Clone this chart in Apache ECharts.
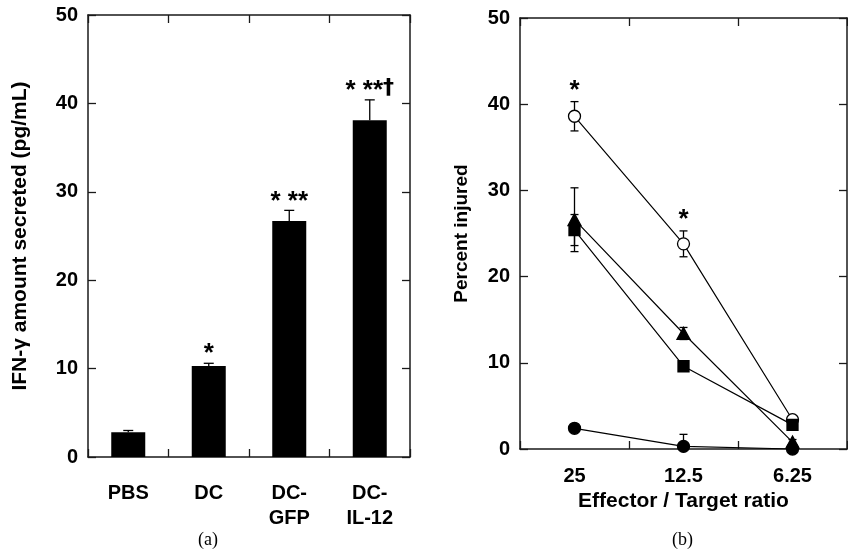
<!DOCTYPE html>
<html>
<head>
<meta charset="utf-8">
<script src="https://cdn.jsdelivr.net/npm/echarts@6/dist/echarts.min.js"></script>
<style>
  html, body { margin: 0; padding: 0; background: #fff; }
  #main { width: 848px; height: 558px; }
</style>
</head>
<body>
<div id="main"></div>
<script>
// (a) IFN-γ secretion
var groups = ['PBS', 'DC', 'DC-\nGFP', 'DC-\nIL-12'];
var ifnValues = [2.8, 10.3, 26.7, 38.1];
var ifnErrors = [0.2, 0.3, 1.2, 2.3];
var ifnMarks = ['', '*', '* **', '* **\u2020'];

// (b) cytotoxicity vs E/T ratio
var ratios = ['25', '12.5', '6.25'];
var openCircle = [38.6, 23.8, 3.4];
var openCircleErr = [1.7, 1.5, 0];
var openCircleMarks = ['*', '*', ''];
var squareVals = [25.4, 9.6, 2.8];
var squareErr = [1.8, 0.4, 0.5];
var triangleVals = [26.6, 13.4, 0.8];
var triangleErr = [3.7, 0.7, 0.3];
var filledCircle = [2.4, 0.3, 0];
var filledCircleErr = [0.2, 1.4, 0];

var FONT = "'Liberation Sans', Arial, sans-serif";

var chart = echarts.init(document.getElementById('main'));

// 误差线数据 [index, low, high, 是否画下端帽]
function errData(vals, errs, both) {
  return vals.map(function (v, i) {
    var lo = both ? Math.max(0, v - errs[i]) : v;
    return [i, lo, v + errs[i], both ? 1 : 0];
  });
}

function errorBarItem(capHalf) {
  return function (params, api) {
    var x = api.value(0);
    var lo = api.coord([x, api.value(1)]);
    var hi = api.coord([x, api.value(2)]);
    var style = { stroke: '#000', lineWidth: 1.3, fill: null };
    var kids = [
      { type: 'line', shape: { x1: lo[0], y1: lo[1], x2: hi[0], y2: hi[1] }, style: style },
      { type: 'line', shape: { x1: hi[0] - capHalf, y1: hi[1], x2: hi[0] + capHalf, y2: hi[1] }, style: style }
    ];
    if (api.value(3)) {
      kids.push({ type: 'line', shape: { x1: lo[0] - capHalf, y1: lo[1], x2: lo[0] + capHalf, y2: lo[1] }, style: style });
    }
    return { type: 'group', children: kids };
  };
}

// 星号标注，放在误差线顶端上方；十字符号单独用粗一点的字体
var marksLookup = { marksA: ifnMarks, marksB: openCircleMarks };
function markItem(gap) {
  return function (params, api) {
    var p = api.coord([api.value(0), api.value(1)]);
    var txt = marksLookup[params.seriesName][params.dataIndex];
    var parts = txt.split('\u2020');
    var rich = txt.indexOf('\u2020') >= 0
      ? '{s|' + parts[0] + '}{d|\u2020}'
      : '{s|' + txt + '}';
    return {
      type: 'text',
      style: {
        text: rich,
        x: p[0], y: p[1] - gap,
        align: 'center', verticalAlign: 'middle',
        rich: {
          s: { fontFamily: FONT, fontWeight: 'bold', fontSize: 26, fill: '#000', color: '#000' },
          d: { fontFamily: "'DejaVu Sans', sans-serif", fontWeight: 'bold', fontSize: 22, fill: '#000', color: '#000', padding: [0, 0, 6, 0] }
        }
      }
    };
  };
}

var axisLine = { show: true, onZero: false, lineStyle: { color: '#1a1a1a', width: 1.5 } };
var tickIn = { show: true, inside: true, length: 8, lineStyle: { color: '#1a1a1a', width: 1.3 } };
var tickLabel = { color: '#000', fontFamily: FONT, fontWeight: 'bold', fontSize: 20 };
var nameStyle = { color: '#000', fontFamily: FONT, fontWeight: 'bold', fontSize: 21 };

function lineSeries(vals, symbol, size, fill) {
  return {
    type: 'line',
    xAxisIndex: 2, yAxisIndex: 2,
    data: vals,
    symbol: symbol,
    symbolSize: size,
    showSymbol: true,
    lineStyle: { color: '#000', width: 1.2 },
    itemStyle: { color: fill, borderColor: '#000', borderWidth: 1.3 },
    emphasis: { disabled: true },
    z: 3
  };
}

var option = {
  animation: false,
  grid: [
    { left: 88, top: 15, width: 322, height: 442 },
    { left: 520, top: 18, width: 327, height: 431 }
  ],
  xAxis: [
    {
      type: 'category', gridIndex: 0, data: groups, position: 'bottom',
      axisLine: axisLine, axisTick: tickIn,
      axisLabel: Object.assign({ margin: 24, lineHeight: 25, interval: 0 }, tickLabel)
    },
    {
      type: 'category', gridIndex: 0, data: groups, position: 'top',
      axisLine: axisLine, axisTick: tickIn, axisLabel: { show: false }
    },
    {
      type: 'category', gridIndex: 1, data: ratios, position: 'bottom',
      axisLine: axisLine, axisTick: tickIn,
      axisLabel: Object.assign({ margin: 17 }, tickLabel),
      name: 'Effector / Target ratio', nameLocation: 'middle', nameGap: 41,
      nameTextStyle: nameStyle
    },
    {
      type: 'category', gridIndex: 1, data: ratios, position: 'top',
      axisLine: axisLine, axisTick: tickIn, axisLabel: { show: false }
    }
  ],
  yAxis: [
    {
      type: 'value', gridIndex: 0, min: 0, max: 50, interval: 10, position: 'left',
      axisLine: axisLine, axisTick: tickIn, splitLine: { show: false },
      axisLabel: Object.assign({ margin: 10 }, tickLabel),
      name: 'IFN-\u03b3 amount secreted (pg/mL)', nameLocation: 'middle', nameGap: 57,
      nameTextStyle: nameStyle
    },
    {
      type: 'value', gridIndex: 0, min: 0, max: 50, interval: 10, position: 'right',
      axisLine: axisLine, axisTick: tickIn, splitLine: { show: false }, axisLabel: { show: false }
    },
    {
      type: 'value', gridIndex: 1, min: 0, max: 50, interval: 10, position: 'left',
      axisLine: axisLine, axisTick: tickIn, splitLine: { show: false },
      axisLabel: Object.assign({ margin: 10 }, tickLabel),
      name: 'Percent injured', nameLocation: 'middle', nameGap: 49,
      nameTextStyle: Object.assign({}, nameStyle, { fontSize: 19 })
    },
    {
      type: 'value', gridIndex: 1, min: 0, max: 50, interval: 10, position: 'right',
      axisLine: axisLine, axisTick: tickIn, splitLine: { show: false }, axisLabel: { show: false }
    }
  ],
  series: [
    {
      type: 'bar', xAxisIndex: 0, yAxisIndex: 0,
      data: ifnValues, barWidth: 34,
      itemStyle: { color: '#000' }, emphasis: { disabled: true }
    },
    {
      type: 'custom', xAxisIndex: 0, yAxisIndex: 0,
      renderItem: errorBarItem(5), data: errData(ifnValues, ifnErrors, false), z: 4
    },
    {
      type: 'custom', name: 'marksA', xAxisIndex: 0, yAxisIndex: 0,
      renderItem: markItem(9),
      data: ifnValues.map(function (v, i) { return [i, v + ifnErrors[i]]; }), z: 5
    },
    // (b) 误差线先画，再画折线和标记
    {
      type: 'custom', xAxisIndex: 2, yAxisIndex: 2,
      renderItem: errorBarItem(4), data: errData(openCircle, openCircleErr, true), z: 2
    },
    {
      type: 'custom', xAxisIndex: 2, yAxisIndex: 2,
      renderItem: errorBarItem(4), data: errData(triangleVals, triangleErr, true), z: 2
    },
    {
      type: 'custom', xAxisIndex: 2, yAxisIndex: 2,
      renderItem: errorBarItem(4), data: errData(squareVals, squareErr, true), z: 2
    },
    {
      type: 'custom', xAxisIndex: 2, yAxisIndex: 2,
      renderItem: errorBarItem(4), data: errData(filledCircle, filledCircleErr, true), z: 2
    },
    lineSeries(openCircle, 'circle', 12, '#fff'),
    lineSeries(squareVals, 'rect', 11, '#000'),
    lineSeries(triangleVals, 'triangle', [13, 12], '#000'),
    lineSeries(filledCircle, 'circle', 12, '#000'),
    {
      type: 'custom', name: 'marksB', xAxisIndex: 2, yAxisIndex: 2,
      renderItem: markItem(11),
      data: openCircle.map(function (v, i) { return [i, v + openCircleErr[i]]; }), z: 5
    }
  ],
  graphic: [
    { type: 'text', left: 198, top: 531, style: { text: '(a)', font: '18px "Liberation Serif", "Times New Roman", serif', fill: '#000' } },
    { type: 'text', left: 672, top: 531, style: { text: '(b)', font: '18px "Liberation Serif", "Times New Roman", serif', fill: '#000' } }
  ]
};

chart.setOption(option);
</script>
</body>
</html>
